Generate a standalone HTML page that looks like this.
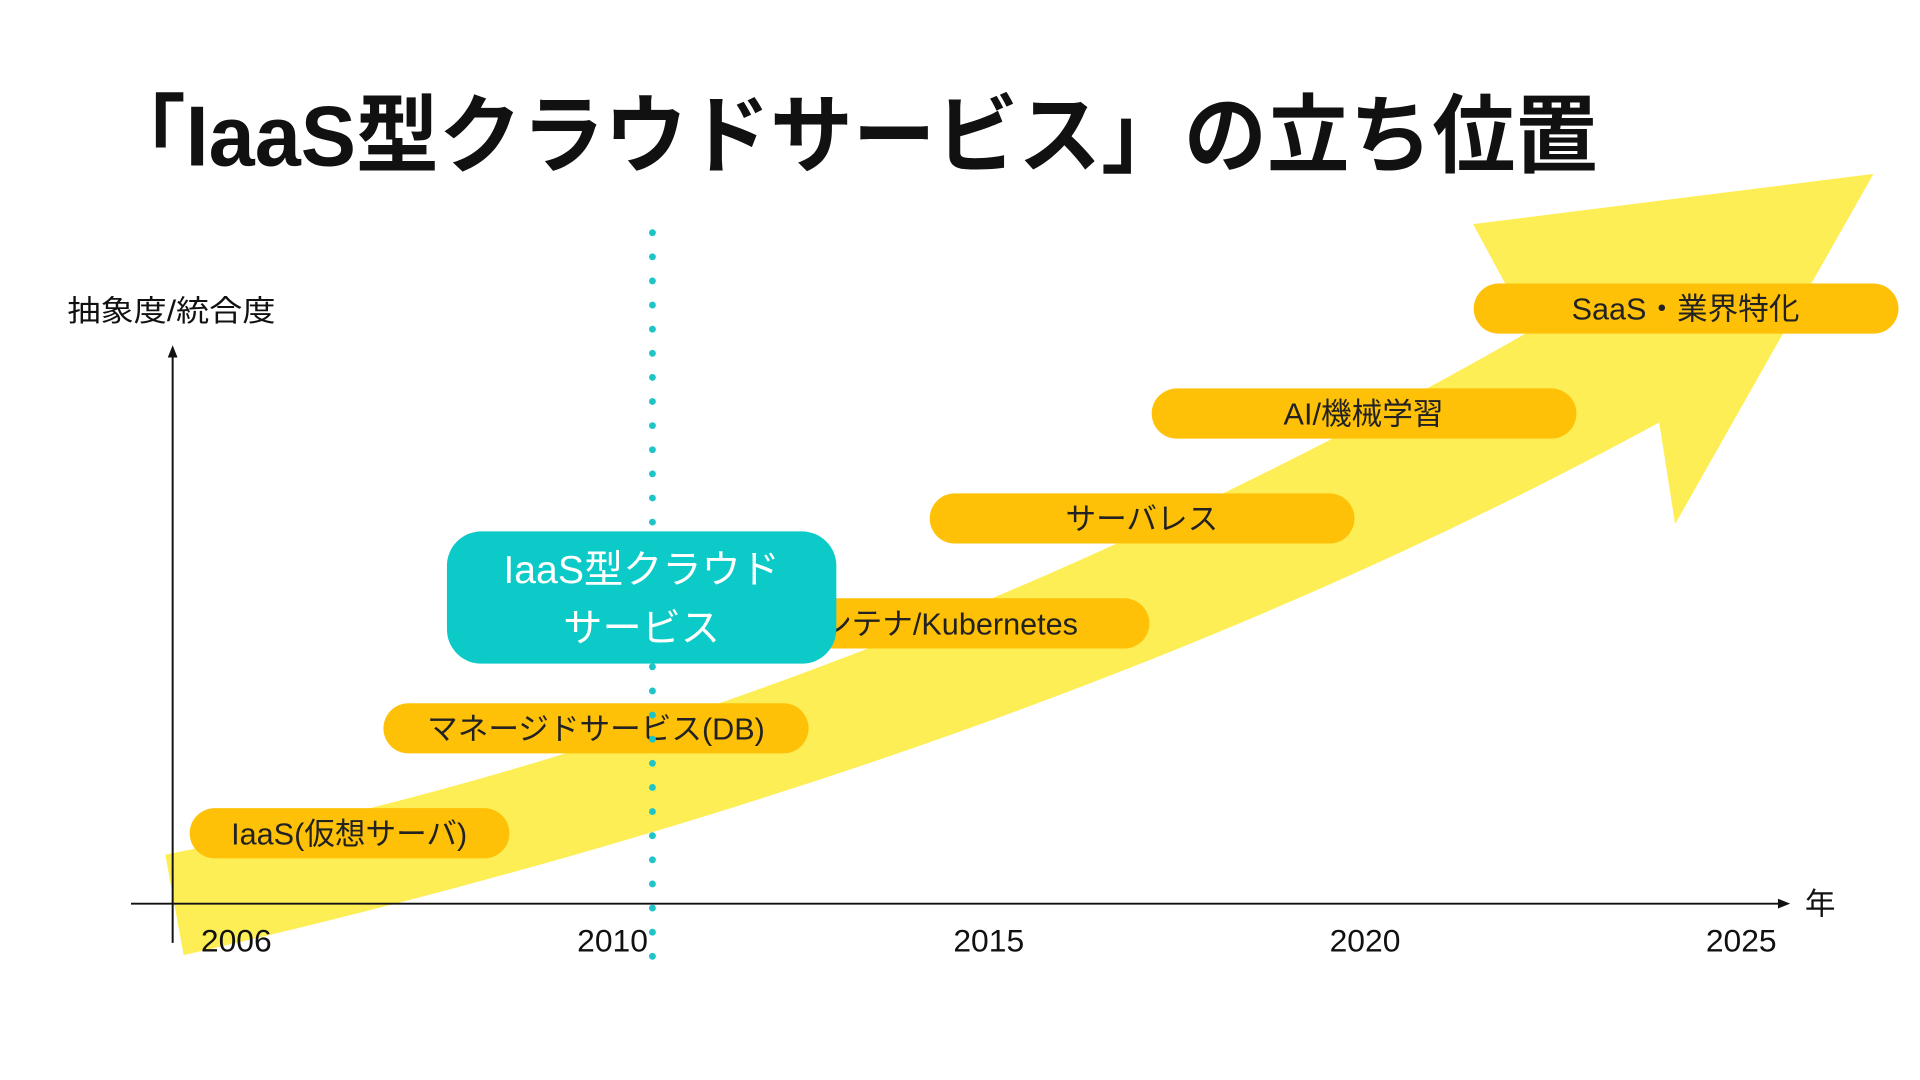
<!DOCTYPE html>
<html lang="ja"><head><meta charset="utf-8"><style>
html,body{margin:0;padding:0;background:#fff;}
svg{display:block;}
text{font-family:"Liberation Sans","Noto Sans CJK JP",sans-serif;}
</style></head><body>
<svg id="chart" width="1920" height="1080" viewBox="0 0 1568 882" xmlns="http://www.w3.org/2000/svg">
<rect width="1568" height="882" fill="#ffffff"/>
<text x="84" y="135" font-size="70" font-weight="bold" fill="#111" textLength="1221" lengthAdjust="spacingAndGlyphs">「IaaS型クラウドサービス」の立ち位置</text>
<path d="M135,698 Q700,585 1250,270 L1203,183 L1530,142 L1368,428 L1355,345 Q850,620 150,780 Z" fill="#fdee55"/>
<g id="axes">
<line x1="141" y1="770" x2="141" y2="288" stroke="#111" stroke-width="1.6"/>
<path d="M141,282 L137,292 L145,292 Z" fill="#111"/>
<line x1="107" y1="738" x2="1455" y2="738" stroke="#111" stroke-width="1.6"/>
<path d="M1462,738 L1452,734 L1452,742 Z" fill="#111"/>
<text x="1474" y="747" font-size="25" fill="#111">年</text>
<text x="55" y="262" font-size="24" fill="#111" textLength="170" lengthAdjust="spacingAndGlyphs">抽象度/統合度</text>
</g>
<g id="ticks"></g>
<g id="pills"></g>
<g id="marker"></g>
</svg>
<script>
const tickLabels = ["2006", "2010", "2015", "2020", "2025"];
const pillLabels = ["IaaS(仮想サーバ)", "マネージドサービス(DB)", "コンテナ/Kubernetes", "サーバレス", "AI/機械学習", "SaaS・業界特化"];
const pillStart = [-0.124, 0.391, 1.298, 1.843, 2.433, 3.289];
const pillEnd = [0.726, 1.521, 2.427, 2.972, 3.562, 4.418];
const pillLevel = [0, 1, 2, 3, 4, 5];
const pillTextCenter = [0.300, 0.956, 1.855, 2.407, 2.996, 3.852];
const markerIndex = 1.106;

const NS = "http://www.w3.org/2000/svg";
function xs(i){ return 193 + i * 307.25; }
function ys(l){ return 680.5 - l * 85.7; }
function mk(tag, attrs, parent){
  const e = document.createElementNS(NS, tag);
  for (const k in attrs) e.setAttribute(k, attrs[k]);
  parent.appendChild(e);
  return e;
}
const ticks = document.getElementById("ticks");
tickLabels.forEach((t, i) => {
  const el = mk("text", {x: xs(i), y: 777, "font-size": 26, fill: "#111", "text-anchor": "middle"}, ticks);
  el.textContent = t;
  
  
});
const pills = document.getElementById("pills");
pillLabels.forEach((lab, k) => {
  const g = mk("g", {}, pills);
  
  
  const cy = ys(pillLevel[k]);
  const x0 = xs(pillStart[k]), x1 = xs(pillEnd[k]);
  mk("rect", {x: x0, y: cy - 20.5, width: x1 - x0, height: 41, rx: 20.5, fill: "#fec107"}, g);
  const t = mk("text", {x: xs(pillTextCenter[k]), y: cy + 9, "font-size": 25, fill: "#222", "text-anchor": "middle"}, g);
  t.textContent = lab;
});
const marker = document.getElementById("marker");
const mx = xs(markerIndex);
for (let y = 190; y <= 784; y += 19.7) {
  const c = mk("circle", {cx: mx, cy: y, r: 2.8, fill: "#1fc4c8"}, marker);
  
  
}
const box = mk("g", {}, marker);


mk("rect", {x: 365, y: 434, width: 318, height: 108, rx: 28, fill: "#0ccac8"}, box);
const t1 = mk("text", {x: 524, y: 476, "font-size": 32, fill: "#fff", "text-anchor": "middle"}, box);
t1.textContent = "IaaS型クラウド";
const t2 = mk("text", {x: 524, y: 524, "font-size": 32, fill: "#fff", "text-anchor": "middle"}, box);
t2.textContent = "サービス";
</script>
</body></html>
